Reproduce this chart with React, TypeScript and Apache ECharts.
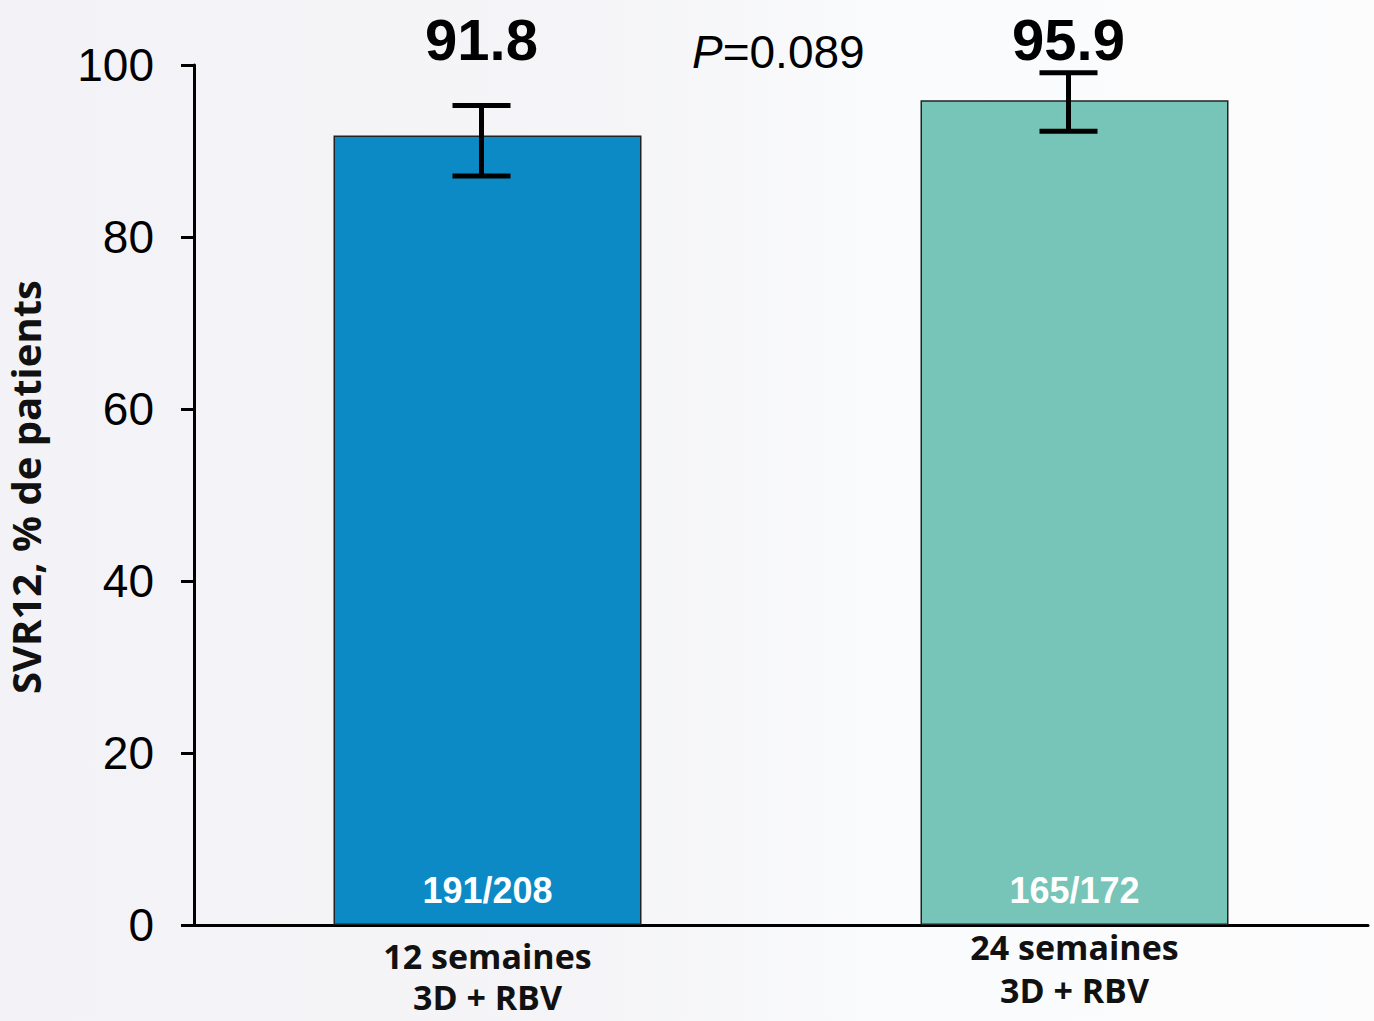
import React, { useEffect, useRef } from "react";
import * as echarts from "echarts";

const categories = ["12 semaines\n3D + RBV", "24 semaines\n3D + RBV"];
const svrValues = [91.8, 95.9];
const ciLow = [87.1, 92.3];
const ciHigh = [95.3, 99.1];
const fractions = ["191/208", "165/172"];
const barColors = ["#0b8ac5", "#76c5b8"];
const pValueText = "0.089";
const yAxisTitle = "SVR12, % de patients";

const ARIAL = "'Liberation Sans', Arial, sans-serif";
const CAL = "'Open Sans', 'Liberation Sans', sans-serif";

const catFont = { fontFamily: CAL, fontWeight: "bold" as const, fontSize: 34, color: "#111" };

export default function App() {
  const ref = useRef<HTMLDivElement>(null);
  useEffect(() => {
    if (!ref.current) return;
    const chart = echarts.init(ref.current, null, { renderer: "svg" });
    chart.setOption({
      animation: false,
      backgroundColor: "transparent",
      grid: {
        left: 194,
        right: 6,
        top: 65,
        bottom: 96,
        containLabel: false,
        outerBoundsMode: "none",
      },
      xAxis: {
        type: "category",
        data: categories,
        axisLine: { show: true, lineStyle: { color: "#000", width: 3 } },
        axisTick: { show: false },
        axisLabel: {
          ...catFont,
          margin: 10,
          formatter: (value: string, index: number) => {
            const [l1, l2] = value.split("\n");
            return index === 1 ? `{b1|${l1}}\n{b2|${l2}}` : `{a|${l1}}\n{a|${l2}}`;
          },
          rich: {
            a: { ...catFont, lineHeight: 41 },
            b1: { ...catFont, lineHeight: 23 },
            b2: { ...catFont, lineHeight: 63 },
          },
        },
      },
      yAxis: {
        type: "value",
        min: 0,
        max: 100,
        interval: 20,
        name: yAxisTitle,
        nameLocation: "middle",
        nameRotate: 90,
        nameGap: 149,
        nameTextStyle: {
          fontFamily: CAL,
          fontWeight: "bold",
          fontSize: 40,
          lineHeight: 40,
          color: "#111",
          padding: [0, 0, 0, 16],
        },
        splitLine: { show: false },
        axisLine: { show: true, lineStyle: { color: "#000", width: 3 } },
        axisTick: { show: true, length: 13, lineStyle: { color: "#000", width: 3 } },
        axisLabel: { fontFamily: ARIAL, fontSize: 46, color: "#000", margin: 40 },
      },
      series: [
        {
          type: "bar",
          barWidth: 308,
          data: svrValues.map((v, i) => ({
            value: v,
            itemStyle: { color: barColors[i], borderColor: "#222", borderWidth: 1.5 },
          })),
          label: {
            show: true,
            position: "insideBottom",
            distance: 17,
            formatter: (p: any) => fractions[p.dataIndex],
            color: "#fff",
            fontFamily: ARIAL,
            fontWeight: "bold",
            fontSize: 36,
          },
          z: 2,
        },
        {
          type: "custom",
          z: 5,
          clip: false,
          data: categories.map((c, i) => [i, ciLow[i], ciHigh[i], svrValues[i]]),
          renderItem: (params: any, api: any) => {
            const idx = api.value(0);
            const lo = api.coord([idx, api.value(1)]);
            const hi = api.coord([idx, api.value(2)]);
            const top = api.coord([idx, 100]);
            const cx = lo[0] - 6;
            const hw = 29;
            const st = { stroke: "#000", lineWidth: 5 };
            return {
              type: "group",
              children: [
                { type: "line", shape: { x1: cx, y1: lo[1], x2: cx, y2: hi[1] }, style: st },
                { type: "line", shape: { x1: cx - hw, y1: hi[1], x2: cx + hw, y2: hi[1] }, style: st },
                { type: "line", shape: { x1: cx - hw, y1: lo[1], x2: cx + hw, y2: lo[1] }, style: st },
                {
                  type: "text",
                  x: cx,
                  y: top[1] - 26,
                  style: {
                    text: api.value(3).toFixed(1),
                    fill: "#000",
                    fontFamily: ARIAL,
                    fontWeight: "bold",
                    fontSize: 58,
                    align: "center",
                    verticalAlign: "middle",
                  },
                },
              ],
            };
          },
        },
      ],
      graphic: [
        {
          type: "text",
          x: 692,
          y: 52,
          style: {
            text: "{i|P}=" + pValueText,
            fill: "#000",
            fontFamily: ARIAL,
            fontSize: 46,
            align: "left",
            verticalAlign: "middle",
            rich: { i: { fontStyle: "italic", fontFamily: ARIAL, fontSize: 46, fill: "#000" } },
          },
        },
      ],
    });
    return () => chart.dispose();
  }, []);
  return (
    <div
      style={{
        position: "absolute",
        left: 0,
        top: 0,
        width: 1374,
        height: 1021,
        background: "linear-gradient(to right, #f3f3f7 0%, #f5f5f8 45%, #fafbfc 65%, #fcfcfd 100%)",
      }}
    >
      <div ref={ref} style={{ width: 1374, height: 1021 }} />
    </div>
  );
}
